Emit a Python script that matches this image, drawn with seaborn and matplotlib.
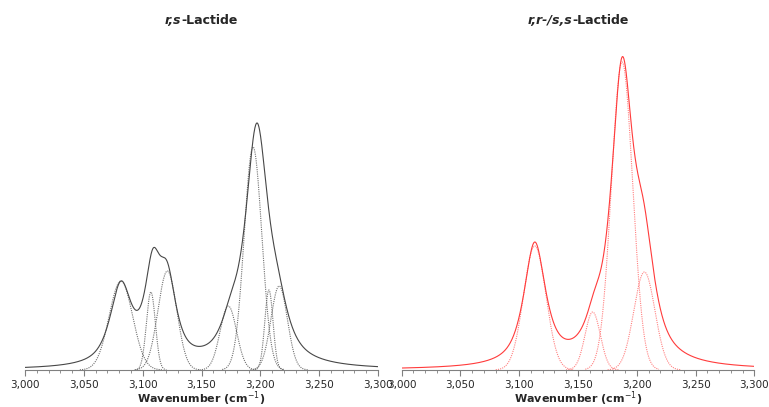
import numpy as np
import pandas as pd
import matplotlib
matplotlib.use('Agg')
import matplotlib.pyplot as plt
import matplotlib.ticker as mticker
from matplotlib.offsetbox import TextArea, HPacker, AnchoredOffsetbox
import seaborn as sns

# fitted component bands (centre cm-1, height, gaussian sigma)
rs_centers = [3081.5, 3107.0, 3121.0, 3172.8, 3193.8, 3207.3, 3216.0]
rs_heights = [89, 78, 99, 64, 223, 80, 84]
rs_sigmas = [10.0, 3.8, 8.0, 7.0, 7.5, 3.5, 7.0]

rr_centers = [3113.2, 3162.5, 3187.5, 3206.5]
rr_heights = [124, 58, 308, 98]
rr_sigmas = [9.5, 6.5, 9.0, 9.0]

# measured spectrum: band positions, read heights and fwhm
rs_env_pos = [3081.5, 3108.5, 3121.0, 3175.0, 3197.0, 3215.0]
rs_env_val = [89, 121, 108, 77, 247, 103]
rs_env_fwhm = [22, 16, 18, 20, 23, 22]

rr_env_pos = [3113.2, 3164.0, 3187.5, 3206.0]
rr_env_val = [128, 80, 313, 168]
rr_env_fwhm = [22, 18, 22, 22]

env_eta = 0.8  # lorentzian share of the measured band shape

xticks = [3000, 3050, 3100, 3150, 3200, 3250, 3300]

sns.set_style('white')
plt.rcParams['font.family'] = ['DejaVu Sans']

wn = np.linspace(3000, 3300, 1501)


def gauss(x, c, h, s):
    return h * np.exp(-(x - c) ** 2 / (2 * s ** 2))


def pvoigt(x, c, w):
    g = np.exp(-4 * np.log(2) * ((x - c) / w) ** 2)
    lo = 1 / (1 + (2 * (x - c) / w) ** 2)
    return env_eta * lo + (1 - env_eta) * g


def envelope(x, pos, val, fwhm):
    # band amplitudes so that the spectrum passes through the read heights
    A = np.array([[pvoigt(p, c, w) for c, w in zip(pos, fwhm)] for p in pos])
    amp = np.linalg.solve(A, np.array(val, dtype=float))
    return sum(a * pvoigt(x, c, w) for a, c, w in zip(amp, pos, fwhm))


def draw(ax, centers, heights, sigmas, pos, val, fwhm, main_col, comp_col):
    for c, h, s in zip(centers, heights, sigmas):
        m = np.abs(wn - c) < 3.5 * s
        comp = pd.DataFrame({'x': wn[m], 'y': gauss(wn[m], c, h, s)})
        sns.lineplot(data=comp, x='x', y='y', ax=ax, color=comp_col,
                     linestyle=(0, (1, 1)), linewidth=0.8)
    spec = pd.DataFrame({'x': wn, 'y': envelope(wn, pos, val, fwhm)})
    sns.lineplot(data=spec, x='x', y='y', ax=ax, color=main_col, linewidth=0.8)

    ax.set_xlim(3000, 3300)
    ax.set_ylim(0, 330)
    ax.set_xticks(xticks)
    ax.xaxis.set_minor_locator(mticker.MultipleLocator(10))
    ax.xaxis.set_major_formatter(mticker.StrMethodFormatter('{x:,.0f}'))
    ax.tick_params(axis='x', which='major', direction='out', length=4, width=0.8,
                   color='#808080', labelsize=7.5, pad=3, bottom=True)
    ax.tick_params(axis='x', which='minor', direction='out', length=2, width=0.6,
                   color='#808080', bottom=True)
    ax.set_yticks([])
    ax.set_ylabel('')
    for side in ['top', 'right', 'left']:
        ax.spines[side].set_visible(False)
    ax.spines['bottom'].set_color('#808080')
    ax.spines['bottom'].set_linewidth(0.8)
    ax.set_xlabel('Wavenumber (cm$^{-1}$)', fontsize=8, fontweight='bold', labelpad=0)


def title(ax, ital, rest):
    parts = HPacker(children=[
        TextArea(ital, textprops=dict(fontsize=9, fontweight='bold', fontstyle='italic')),
        TextArea(rest, textprops=dict(fontsize=9, fontweight='bold'))],
        align='baseline', pad=0, sep=0)
    box = AnchoredOffsetbox(loc='center', child=parts, frameon=False,
                            bbox_to_anchor=(0.5, 1 + 19 / 330),
                            bbox_transform=ax.transAxes, borderpad=0, pad=0)
    ax.add_artist(box)


fig = plt.figure(figsize=(7.69, 4.07), dpi=100)
ax1 = fig.add_axes([25 / 769, 37 / 407, 353 / 769, 330 / 407])
ax2 = fig.add_axes([401.7 / 769, 37 / 407, 352.6 / 769, 330 / 407])

draw(ax1, rs_centers, rs_heights, rs_sigmas, rs_env_pos, rs_env_val, rs_env_fwhm,
     '#474747', '#707070')
draw(ax2, rr_centers, rr_heights, rr_sigmas, rr_env_pos, rr_env_val, rr_env_fwhm,
     '#ff3b3b', '#ff8080')

title(ax1, 'r,s', '-Lactide')
title(ax2, 'r,r-/s,s', '-Lactide')

fig.savefig('out.png', dpi=100)
